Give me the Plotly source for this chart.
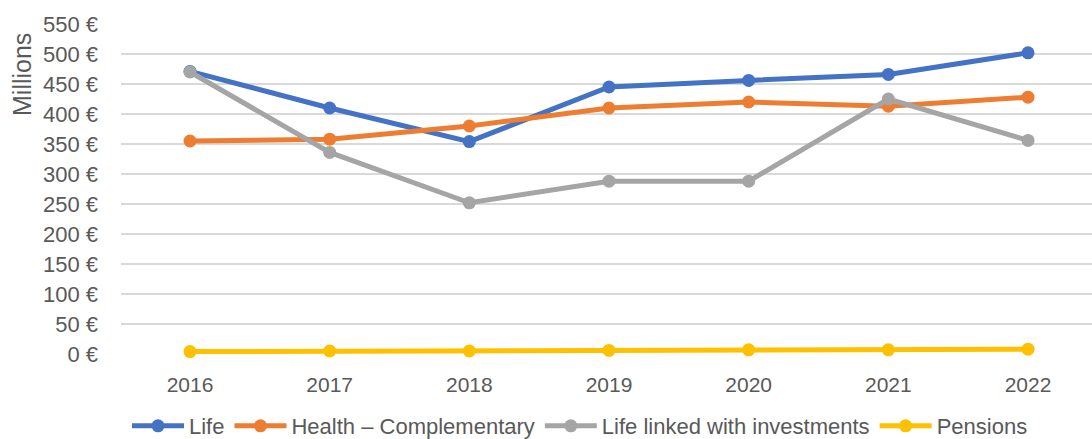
import plotly.graph_objects as go

years = ["2016", "2017", "2018", "2019", "2020", "2021", "2022"]
life = [471, 410, 354, 445, 456, 466, 502]
health = [355, 358, 380, 410, 420, 413, 428]
life_linked = [470, 336, 252, 288, 288, 425, 356]
pensions = [4, 5, 5, 6, 7, 7, 8]

series = [
    ("Life", life, "#4472C4"),
    ("Health – Complementary", health, "#ED7D31"),
    ("Life linked with investments", life_linked, "#A5A5A5"),
    ("Pensions", pensions, "#FFC000"),
]

FONT = "Liberation Sans"
TXT = "#595959"

fig = go.Figure()
for name, vals, col in series:
    fig.add_trace(go.Scatter(
        x=years, y=vals, name=name, mode="lines+markers",
        line=dict(color=col, width=5),
        marker=dict(color=col, size=13),
        cliponaxis=False,
    ))

W, H = 1092, 439
L, R, T, B = 121, 0, 24, 85

fig.update_layout(
    width=W, height=H,
    margin=dict(l=L, r=R, t=T, b=B, autoexpand=False),
    paper_bgcolor="white", plot_bgcolor="white",
    font=dict(family=FONT, size=21, color=TXT),
    showlegend=True,
    legend=dict(
        orientation="h", xref="container", yref="container",
        x=(133 - 6) / W, xanchor="left", y=1 - 426 / H, yanchor="middle",
        font=dict(family=FONT, size=22, color=TXT),
        itemwidth=52, tracegroupgap=0,
    ),
    xaxis=dict(
        type="category", range=[-0.494, 6.458],
        showgrid=False, zeroline=False, showline=False,
        ticks="", tickfont=dict(size=21, color=TXT),
        ticklabelstandoff=16,
    ),
    yaxis=dict(
        range=[0, 550], dtick=50, tick0=0,
        showgrid=True, gridcolor="#D9D9D9", gridwidth=1.5,
        zeroline=False, showline=False, ticks="",
        ticksuffix=" €", tickfont=dict(size=22, color=TXT),
        ticklabelstandoff=22,
    ),
    annotations=[dict(
        text="Millions", textangle=-90, xref="paper", yref="paper",
        x=-(121 - 22) / (W - L - R), y=(354 - 75) / (354 - 24),
        xanchor="center", yanchor="middle", showarrow=False,
        font=dict(family=FONT, size=25, color=TXT),
    )],
)

fig.write_html("out.html", config={"displayModeBar": False},
               post_script="document.body.style.margin='0';")
